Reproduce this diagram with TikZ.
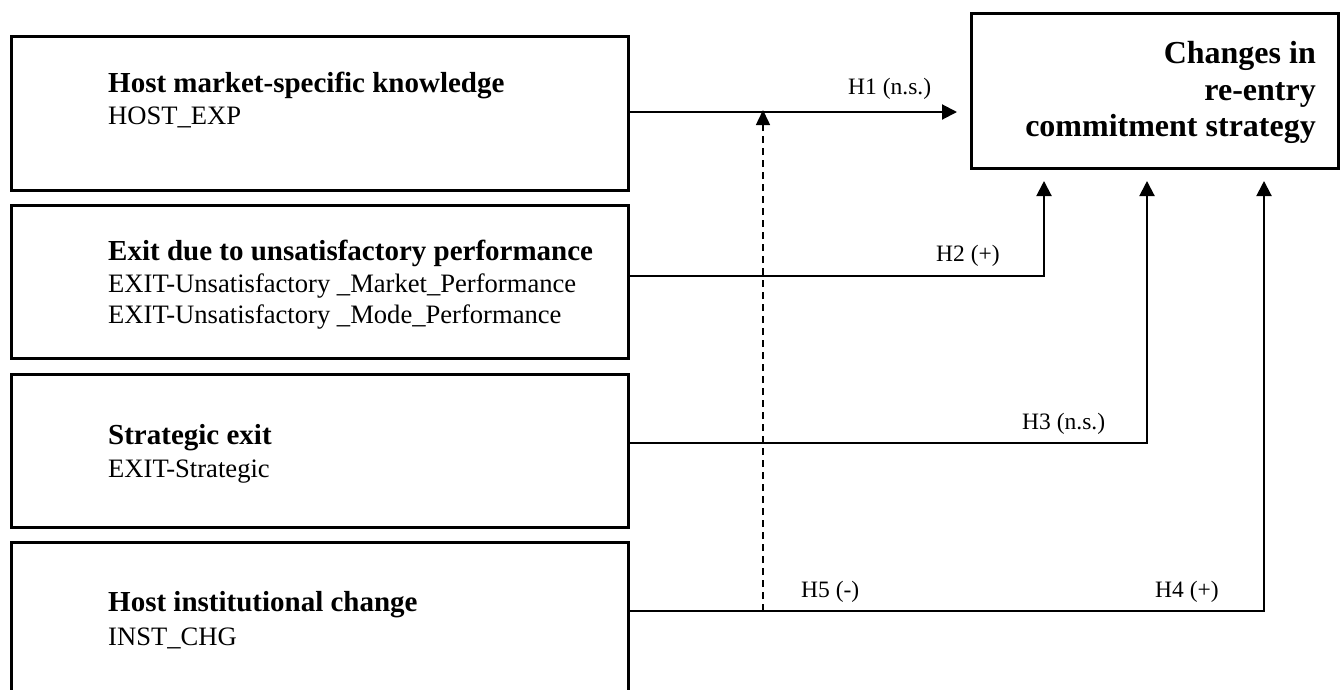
\documentclass[tikz,border=0pt]{standalone}
\usepackage{fontspec}
\setmainfont{Liberation Serif}
\usetikzlibrary{arrows.meta}
\begin{document}
\begin{tikzpicture}[x=1pt,y=-1pt,
  box/.style={draw,line width=3pt,inner sep=0pt,anchor=north west},
  conn/.style={draw,line width=2pt},
  tip/.style={-{Triangle[length=15pt,width=15pt]}},
  dashconn/.style={draw,line width=1.5pt,dash pattern=on 7pt off 5pt},
  head/.style={anchor=base west,inner sep=0pt,font=\fontsize{29}{33}\selectfont\bfseries},
  var/.style={anchor=base west,inner sep=0pt,font=\fontsize{26.6}{30}\selectfont},
  tgttext/.style={anchor=base east,inner sep=0pt,font=\fontsize{32}{36}\selectfont\bfseries},
  lab/.style={anchor=base west,inner sep=0pt,font=\fontsize{23.5}{27}\selectfont}]
\useasboundingbox[fill=white] (0,0) rectangle (1341,689);
% boxes
\node[box,minimum width=617pt,minimum height=154pt] (b1) at (9.5,35) {};
\node[box,minimum width=617pt,minimum height=153pt] (b2) at (9.5,204) {};
\node[box,minimum width=617pt,minimum height=153pt] (b3) at (9.5,373) {};
\node[box,minimum width=617pt,minimum height=200pt] (b4) at (9.5,541) {};
\node[box,minimum width=367pt,minimum height=155pt] (tgt) at (970,12) {};
% box texts
\node[head] (b1h) at (108,92) {Host market-specific knowledge};
\node[var] (b1v) at (108,124) {HOST\_EXP};
\node[head] (b2h) at (108,260) {Exit due to unsatisfactory performance};
\node[var] (b2v1) at (108,292) {EXIT-Unsatisfactory \_Market\_Performance};
\node[var] (b2v2) at (108,323) {EXIT-Unsatisfactory \_Mode\_Performance};
\node[head] (b3h) at (108,444) {Strategic exit};
\node[var] (b3v) at (108,477) {EXIT-Strategic};
\node[head] (b4h) at (108,611) {Host institutional change};
\node[var] (b4v) at (108,645) {INST\_CHG};
\node[tgttext] (tg1) at (1316,63) {Changes in};
\node[tgttext] (tg2) at (1316,100) {re-entry};
\node[tgttext] (tg3) at (1316,136) {commitment strategy};
% connector end points
\coordinate (h1end) at (957,112);
\coordinate (h2b) at (1044,276);
\coordinate (h2end) at (1044,181);
\coordinate (h3b) at (1147,443);
\coordinate (h3end) at (1147,181);
\coordinate (h4b) at (1264,611);
\coordinate (h4end) at (1264,181);
\coordinate (h5s) at (763,611);
\coordinate (h5end) at (763,110);
% connectors
\draw[conn,tip] (b1.east |- h1end) -- (h1end);
\draw[conn,tip] (b2.east |- h2b) -- (h2b) -- (h2end);
\draw[conn,tip] (b3.east |- h3b) -- (h3b) -- (h3end);
\draw[conn,tip] (b4.east |- h4b) -- (h4b) -- (h4end);
\draw[dashconn,-{Triangle[length=15pt,width=14pt]}] (h5s) -- (h5end);
% labels
\node[lab] (l1) at (848,94) {H1 (n.s.)};
\node[lab] (l2) at (936,261) {H2 (+)};
\node[lab] (l3) at (1022,429) {H3 (n.s.)};
\node[lab] (l5) at (801,597) {H5 (-)};
\node[lab] (l4) at (1155,597) {H4 (+)};
\end{tikzpicture}
\end{document}
